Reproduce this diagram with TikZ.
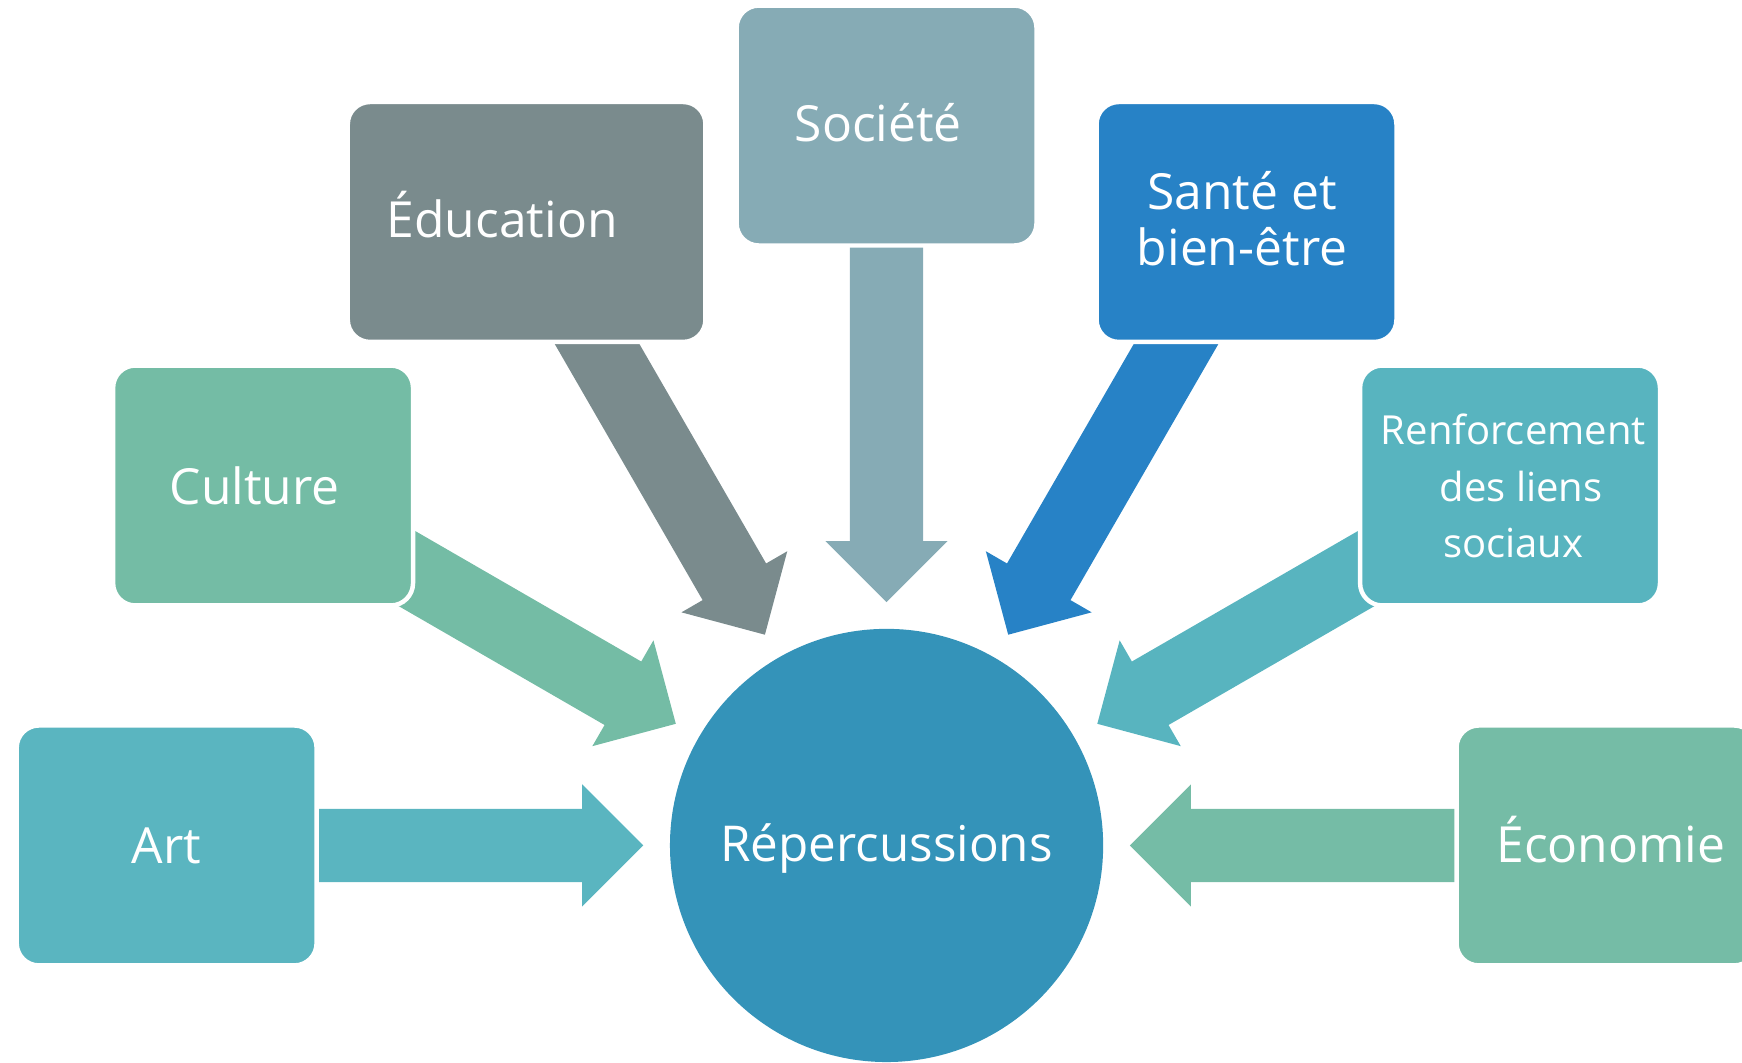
\documentclass[tikz,border=0pt]{standalone}
\usepackage{fontspec}
\setmainfont{Open Sans}
\usetikzlibrary{calc,backgrounds}
\definecolor{cart}{HTML}{5AB5C0}
\definecolor{ccul}{HTML}{74BCA5}
\definecolor{cedu}{HTML}{7A8B8D}
\definecolor{csoc}{HTML}{86ABB5}
\definecolor{csan}{HTML}{2782C6}
\definecolor{cren}{HTML}{58B4BF}
\definecolor{ceco}{HTML}{75BCA6}
\definecolor{crep}{HTML}{3493B9}
\newcommand{\blockarrow}[3]{%
  \path ($(#2)!1.1cm!(#1)$) coordinate (hb);
  \fill[#3] ($(#1)!0.66cm!90:(#2)$) -- ($(hb)!0.66cm!-90:(#1)$) -- ($(hb)!1.1cm!-90:(#1)$) -- (#2)
    -- ($(hb)!1.1cm!90:(#1)$) -- ($(hb)!0.66cm!90:(#1)$) -- ($(#1)!0.66cm!-90:(#2)$) -- cycle;}
\newcommand{\shiftv}[2]{\raisebox{#1}[\height][\depth]{#2}}
\tikzset{
  box/.style={rounded corners=0.4cm, minimum width=5.4cm, minimum height=4.32cm, inner sep=0pt,
    draw=white, line width=0.08cm, text=white, align=center,
    font=\fontsize{25.5}{28.5}\selectfont},
  hub/.style={circle, fill=crep, minimum size=7.8cm, inner sep=0pt, text=white,
    font=\fontsize{25.3}{28.5}\selectfont}
}
\begin{document}
\begin{tikzpicture}[x=0.02cm, y=-0.02cm]
\useasboundingbox (0,0) rectangle (1568,956);
\node[hub] (rep) at (798,761) {\shiftv{-0.06cm}{Répercussions}};
\node[box, fill=cart] (art) at (150,761) {Art};
\node[box, fill=ccul] (cul) at (236.8,437) {\hspace*{-0.3cm}Culture};
\node[box, fill=cedu, minimum width=6.44cm] (edu) at (474,199.8) {\hspace*{-0.88cm}\shiftv{0.14cm}{Éducation}};
\node[box, fill=csoc] (soc) at (798,113) {\hspace*{-0.3cm}\shiftv{0.06cm}{Société}};
\node[box, fill=csan] (san) at (1122,199.8) {\hspace*{-0.16cm}\shiftv{-0.08cm}{\begin{tabular}{@{}c@{}}Santé et\\bien-être\end{tabular}}};
\node[box, fill=cren, font=\fontsize{20.5}{29}\selectfont] (ren) at (1359.2,437) {\hspace*{0.12cm}\shiftv{-0.08cm}{\begin{tabular}{@{}c@{}}Renforcement\\\hspace*{0.28cm}des liens\\sociaux\end{tabular}}};
\node[box, fill=ceco] (eco) at (1446,761) {\hspace*{0.16cm}\shiftv{0.1cm}{Économie}};
\coordinate (tart) at (579,761);
\coordinate (tcul) at (608.3,651.5);
\coordinate (tedu) at (688.5,571.3);
\coordinate (tsoc) at (798,542);
\coordinate (tsan) at (907.5,571.3);
\coordinate (tren) at (987.7,651.5);
\coordinate (teco) at (1017,761);
\begin{scope}[on background layer]
\blockarrow{art.center}{tart}{cart}
\blockarrow{cul.center}{tcul}{ccul}
\blockarrow{edu.center}{tedu}{cedu}
\blockarrow{soc.center}{tsoc}{csoc}
\blockarrow{san.center}{tsan}{csan}
\blockarrow{ren.center}{tren}{cren}
\blockarrow{eco.center}{teco}{ceco}
\end{scope}
\end{tikzpicture}
\end{document}
